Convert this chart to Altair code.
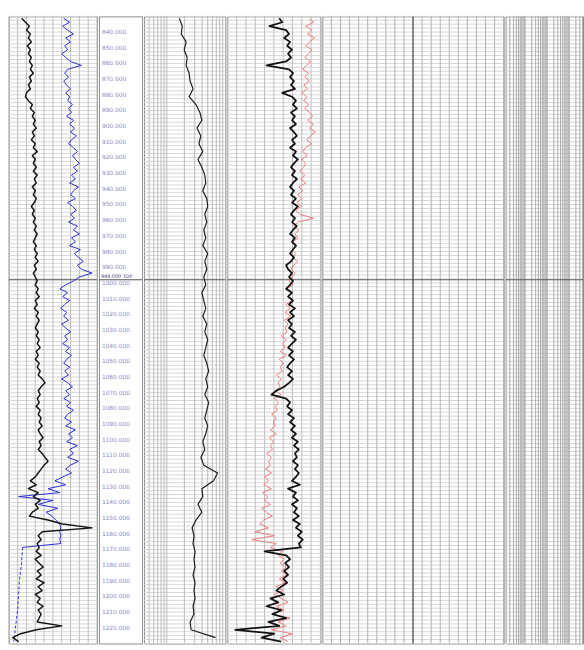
import altair as alt
import pandas as pd
import numpy as np

# ---------------- depth frame ----------------
TOP_DEPTH = 830.0
BASE_DEPTH = 1230.0
FINE_START = 831.25     # first sample depth of the fine curves
FINE_STEP = 2.5         # metres between samples
A_STEP = 5.0            # coarser sampling of curve A
MARKER_DEPTH = 998.0    # marked horizon (dark line)
MARKER_TEXT = "998.000 TOP"

# ---------------- track 1 curves (0-90 scale) ----------------
gr = [13, 17, 21, 18, 22, 20, 23, 19, 22, 20, 23, 21, 24, 22, 25, 21, 23, 20, 22, 18,
      17, 20, 24, 22, 26, 24, 27, 25, 28, 24, 26, 23, 27, 25, 29, 24, 27, 25,
      28, 25, 29, 26, 28, 24, 27, 25, 28, 26, 23, 26, 24, 27, 25, 28, 26, 29, 27, 25,
      28, 26, 29, 27, 30, 26, 28, 25, 27, 29,
      27, 30, 28, 31, 27, 29, 26, 30, 28, 31, 29, 27, 30, 28, 31, 29, 32, 28, 30, 27,
      31, 29, 32, 30, 34, 37, 33, 30, 32, 29, 31, 28, 32, 30, 33, 31, 34, 30, 32, 35,
      31, 33, 30, 34, 37, 40, 36, 33, 30, 27,
      22, 28, 20, 30, 25, 32, 27, 30, 24, 21, 40, 55, 85, 34, 30, 33, 29, 31,
      28, 33, 27, 31, 35, 29, 33, 28, 36, 30, 34, 27, 32, 29, 35, 30, 33, 31, 29, 54,
      28, 12, 4, 10]

blue = [56, 62, 55, 60, 66, 58, 63, 57, 60, 54, 58, 63, 74, 60, 57, 61, 56, 59, 63, 58,
        62, 60, 65, 61, 64, 59, 66, 62, 67, 63, 69, 64, 61, 66, 70, 65, 68, 72,
        66, 70, 64, 68, 62, 71, 66, 63, 68, 60, 65, 69, 63, 67, 61, 70, 66, 72, 64, 68,
        62, 73, 67, 71, 76, 70, 74, 85, 72, 66,
        58, 52, 60, 55, 62, 57, 53, 59, 56, 61, 54, 58, 63, 57, 60, 55, 62, 58, 64, 59,
        56, 62, 57, 61, 54, 60, 65, 58, 62, 56, 63, 59, 66, 60, 57, 64, 58, 68, 61, 65,
        59, 70, 62, 66, 60, 71, 63, 58, 64, 55,
        47, 58, 40, 52, 10, 45, 30, 50, 38, 44, 48, 52, 53, 52, 53, 52, 53, 14]

blue_tail_start = 1168.75
blue_tail_step = 10.0
blue_tail = [14, 13, 11, 10, 9, 7, 5]

# ---------------- track 2 curves ----------------
curve_a = [36, 39, 38, 43, 41, 44, 43, 46, 47, 50, 46, 53, 57, 59, 54, 58, 56, 60, 55, 59,
           62, 63, 60, 64, 65, 62, 64, 61, 63, 60, 65, 62, 64, 61, 63, 59, 61, 63, 60, 64,
           62, 65, 63, 61, 64, 66, 63, 65, 62, 66, 64, 62, 65, 63, 60, 62, 58, 61,
           75, 71, 59, 60, 55, 59, 53, 49, 51, 50, 52, 51, 52, 50, 52, 51, 52, 50, 51, 47,
           48, 73]

curve_b = [53, 56, 43, 60, 63, 58, 64, 61, 66, 62, 65, 60, 40, 63, 67, 64, 68, 65, 69, 56,
           66, 70, 67, 71, 65, 69, 66, 70, 64, 68, 71, 66, 69, 64, 70, 67, 72, 68,
           65, 69, 66, 71, 67, 64, 68, 65, 70, 66, 72, 68, 65, 69, 66, 71, 67, 64, 69, 66,
           70, 67, 64, 68, 65, 60, 62, 66, 63, 67,
           64, 60, 66, 62, 67, 63, 69, 64, 68, 62, 66, 63, 69, 65, 70, 66, 62, 67, 63, 68,
           64, 61, 66, 62, 67, 63, 58, 50, 45, 60, 64, 61, 66, 62, 68, 64, 69, 65, 70, 66,
           72, 68, 73, 69, 71, 67, 72, 69, 73, 70,
           66, 74, 62, 70, 67, 72, 66, 71, 68, 73, 67, 74, 70, 76, 72, 77, 73, 75,
           38, 60, 64, 59, 63, 58, 62, 57, 61, 55, 50, 58, 44, 52, 40, 55, 46, 60, 42, 53,
           8, 48, 35, 55]

curve_c = [84, 88, 80, 86, 82, 89, 84, 80, 86, 83, 79, 85, 81, 77, 83, 79, 84, 78, 82, 76,
           81, 78, 83, 79, 84, 87, 82, 88, 84, 90, 85, 81, 86, 80, 77, 82, 76, 80,
           78, 74, 79, 75, 80, 73, 77, 72, 76, 71, 75, 70, 74, 88, 72, 68, 73, 69, 72, 67,
           71, 66, 70, 67, 72, 68, 65, 69, 66, 63,
           67, 61, 65, 62, 66, 60, 64, 59, 65, 58, 62, 59, 61, 55, 60, 57, 59, 54, 60, 53,
           57, 54, 56, 50, 55, 52, 54, 49, 55, 48, 52, 49, 51, 45, 50, 47, 49, 44, 50, 43,
           47, 44, 46, 40, 45, 42, 44, 39, 45, 38,
           42, 37, 45, 36, 41, 38, 44, 35, 40, 46, 37, 33, 42, 28, 48, 25, 50, 44,
           56, 52, 58, 54, 60, 55, 61, 53, 59, 50, 57, 48, 55, 62, 50, 58, 46, 64, 52, 60,
           45, 66, 54, 62]

# ---------------- depth labels ----------------
label_depths = list(range(840, 1221, 10))

# ---------------- grid definitions ----------------
h_minor = list(np.arange(TOP_DEPTH, BASE_DEPTH + 0.1, 2.5))
t1_grid = list(range(0, 91, 9))
t2a_grid = [0.5, 0.6, 0.7, 0.8, 0.9, 1, 2, 3, 4, 5, 6, 7, 8, 9]
t2b_grid = list(np.arange(0, 95.1, 9.5))
t3a_grid = list(range(0, 21))
t3a_major = [10]
t3b_grid = [k * 10.0 ** n for n in (-1, 0, 1, 2) for k in range(1, 10)]
t3b_grid = [g for g in t3b_grid if 0.13 <= g <= 420]

H = 640
yscale = alt.Scale(domain=[TOP_DEPTH, BASE_DEPTH], reverse=True, nice=False, zero=False)


def hgrid():
    df = pd.DataFrame({"d": h_minor})
    return alt.Chart(df).mark_rule(color="#d6d6d6", strokeWidth=1).encode(
        y=alt.Y("d:Q", scale=yscale, axis=None))


def vgrid(vals, scale, color="#bdbdbd", width=1.0):
    df = pd.DataFrame({"g": vals})
    return alt.Chart(df).mark_rule(color=color, strokeWidth=width).encode(
        x=alt.X("g:Q", scale=scale, axis=None))


def marker():
    df = pd.DataFrame({"d": [MARKER_DEPTH]})
    return alt.Chart(df).mark_rule(color="#505050", strokeWidth=1).encode(
        y=alt.Y("d:Q", scale=yscale, axis=None))


def curve(vals, start, step, scale, color, width, dash=None):
    df = pd.DataFrame({"depth": start + step * np.arange(len(vals)), "v": vals})
    kw = dict(color=color, strokeWidth=width, clip=True, strokeJoin="round")
    if dash is not None:
        kw["strokeDash"] = dash
    return alt.Chart(df).mark_line(**kw).encode(
        x=alt.X("v:Q", scale=scale, axis=None),
        y=alt.Y("depth:Q", scale=yscale, axis=None),
        order=alt.Order("depth:Q"))


# track 1
s1 = alt.Scale(domain=[0, 90], nice=False, zero=False)
track1 = alt.layer(
    hgrid(), vgrid(t1_grid, s1), marker(),
    curve(blue, FINE_START, FINE_STEP, s1, "#2b2bd6", 1.0),
    curve(blue_tail, blue_tail_start, blue_tail_step, s1, "#2b2bd6", 1.0, dash=[3, 2]),
    curve(gr, FINE_START, FINE_STEP, s1, "#151515", 1.5),
).properties(width=90, height=H)

# depth track
lab_df = pd.DataFrame({"d": label_depths, "t": [f"{d:.3f}" for d in label_depths]})
labels = alt.Chart(lab_df).mark_text(align="left", baseline="middle", fontSize=6,
                                     font="DejaVu Sans", color="#8a8ac4").encode(
    x=alt.value(3), y=alt.Y("d:Q", scale=yscale, axis=None), text="t:N")
mk_df = pd.DataFrame({"d": [MARKER_DEPTH], "t": [MARKER_TEXT]})
mk_text = alt.Chart(mk_df).mark_text(align="left", baseline="bottom", fontSize=5, dy=-1,
                                     font="DejaVu Sans", color="#404070").encode(
    x=alt.value(2), y=alt.Y("d:Q", scale=yscale, axis=None), text="t:N")
depth_track = alt.layer(marker(), labels, mk_text).properties(width=44, height=H)

# track 2a (log grid, curve A)
s2a_grid = alt.Scale(type="log", domain=[0.41, 10], nice=False)
s2a = alt.Scale(domain=[0, 83], nice=False, zero=False)
track2a = alt.layer(
    hgrid(), vgrid(t2a_grid, s2a_grid, color="#b8b8b8"), marker(),
    curve(curve_a, FINE_START, A_STEP, s2a, "#1c1c1c", 1.2),
).resolve_scale(x="independent").properties(width=83, height=H)

# track 2b (curves B and C)
s2b = alt.Scale(domain=[0, 95], nice=False, zero=False)
track2b = alt.layer(
    hgrid(), vgrid(t2b_grid, s2b), marker(),
    curve(curve_c, FINE_START, FINE_STEP, s2b, "#ec7a7a", 1.0),
    curve(curve_b, FINE_START, FINE_STEP, s2b, "#111111", 1.8),
).properties(width=95, height=H)

# track 3a (linear grid)
s3a = alt.Scale(domain=[0, 20], nice=False, zero=False)
track3a = alt.layer(
    hgrid(), vgrid(t3a_grid, s3a, color="#b0b0b0"),
    vgrid(t3a_major, s3a, color="#6a6a6a", width=1.5), marker(),
).properties(width=185, height=H)

# track 3b (log grid)
s3b = alt.Scale(type="log", domain=[0.13, 420], nice=False)
track3b = alt.layer(
    hgrid(), vgrid(t3b_grid, s3b, color="#a8a8a8"), marker(),
).properties(width=79, height=H)

chart = alt.hconcat(track1, depth_track, track2a, track2b, track3a, track3b, spacing=0).configure_view(
    stroke="#8a8a8a", strokeWidth=1
).configure_concat(spacing=0).properties(
    padding={"left": 8, "top": 8, "right": 0, "bottom": 2}, background="white"
)

chart.save("out.html", embed_options={"renderer": "svg", "actions": False})
